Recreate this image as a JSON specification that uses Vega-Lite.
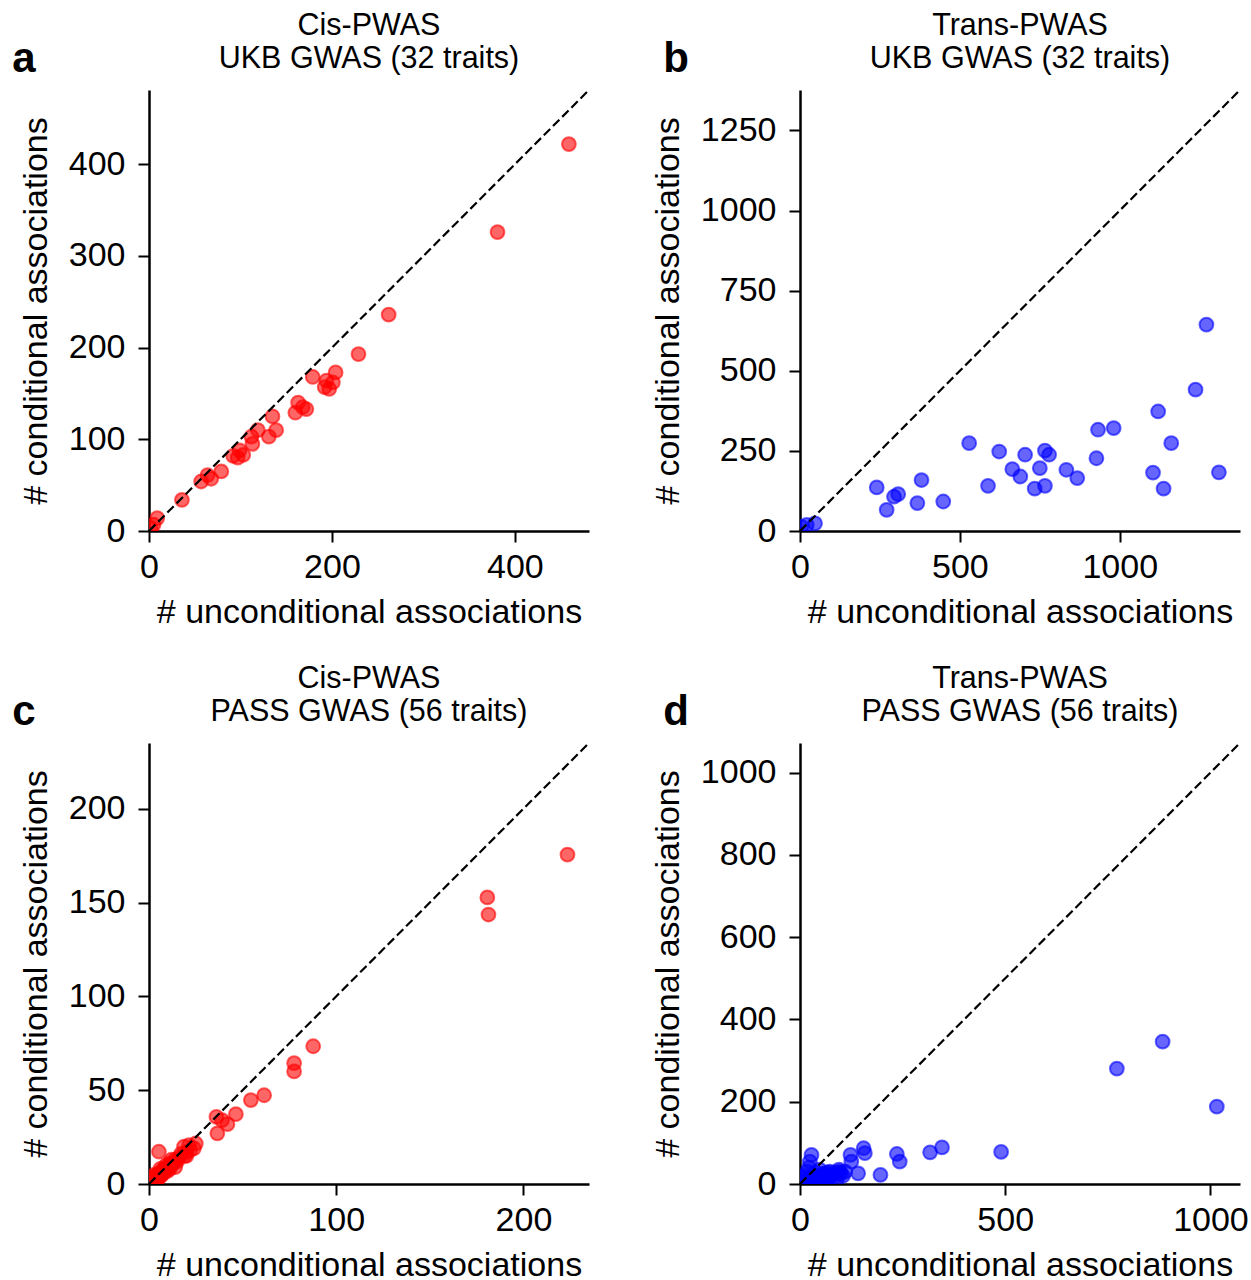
{
  "$schema": "https://vega.github.io/schema/vega-lite/v6.json",
  "background": "white",
  "padding": {"left": 12, "top": 11, "right": 5, "bottom": 5},
  "config": {
    "font": "Liberation Sans",
    "view": {"stroke": null},
    "axis": {"grid": false, "domainColor": "black", "domainWidth": 2.5, "tickColor": "black", "tickWidth": 2, "tickSize": 11, "labelFontSize": 34, "titleFontSize": 34, "labelColor": "black", "titleColor": "black", "titleFontWeight": "normal", "labelFlush": false, "labelFont": "Liberation Sans", "titleFont": "Liberation Sans", "format": "d"},
    "axisX": {"labelPadding": 8, "titlePadding": 11},
    "axisY": {"labelPadding": 13, "titlePadding": 15},
    "title": {"fontSize": 30.5, "fontWeight": "normal", "color": "black", "lineHeight": 33, "offset": 11, "font": "Liberation Sans"}
  },
  "columns": 2,
  "spacing": {"row": 35, "column": 57},
  "datasets": {
    "a": [
      {"u": 459, "c": 422}, {"u": 381, "c": 326}, {"u": 262, "c": 236}, {"u": 229, "c": 193}, {"u": 204, "c": 173}, {"u": 179, "c": 168}, {"u": 201, "c": 162}, {"u": 194, "c": 164}, {"u": 192, "c": 157}, {"u": 197, "c": 155}, {"u": 163, "c": 140}, {"u": 168, "c": 135}, {"u": 172, "c": 133}, {"u": 160, "c": 129}, {"u": 135, "c": 125}, {"u": 139, "c": 110}, {"u": 131, "c": 103}, {"u": 119, "c": 110}, {"u": 112, "c": 103}, {"u": 113, "c": 95}, {"u": 99, "c": 88}, {"u": 103, "c": 83}, {"u": 92, "c": 82}, {"u": 97, "c": 80}, {"u": 79, "c": 65}, {"u": 64, "c": 61}, {"u": 57, "c": 54}, {"u": 68, "c": 57}, {"u": 36, "c": 34}, {"u": 9, "c": 14}, {"u": 5, "c": 7}, {"u": 2, "c": 3}
    ],
    "b": [
      {"u": 1271, "c": 644}, {"u": 1237, "c": 441}, {"u": 1120, "c": 373}, {"u": 981, "c": 321}, {"u": 932, "c": 316}, {"u": 1161, "c": 274}, {"u": 529, "c": 274}, {"u": 623, "c": 248}, {"u": 766, "c": 251}, {"u": 779, "c": 238}, {"u": 704, "c": 238}, {"u": 927, "c": 227}, {"u": 664, "c": 193}, {"u": 750, "c": 196}, {"u": 833, "c": 191}, {"u": 689, "c": 170}, {"u": 867, "c": 165}, {"u": 1104, "c": 182}, {"u": 1310, "c": 183}, {"u": 1137, "c": 132}, {"u": 734, "c": 132}, {"u": 766, "c": 141}, {"u": 588, "c": 141}, {"u": 380, "c": 159}, {"u": 240, "c": 136}, {"u": 307, "c": 115}, {"u": 294, "c": 107}, {"u": 367, "c": 87}, {"u": 448, "c": 92}, {"u": 271, "c": 66}, {"u": 47, "c": 24}, {"u": 21, "c": 19}, {"u": 5, "c": 13}
    ],
    "c": [
      {"u": 223.5, "c": 175.5}, {"u": 180.7, "c": 152.7}, {"u": 181.3, "c": 143.6}, {"u": 87.7, "c": 73.4}, {"u": 77.5, "c": 64.4}, {"u": 77.5, "c": 60}, {"u": 61.5, "c": 47.3}, {"u": 54.4, "c": 44.7}, {"u": 46.4, "c": 37.2}, {"u": 36, "c": 35.8}, {"u": 41.9, "c": 31.9}, {"u": 39, "c": 34}, {"u": 36.5, "c": 27}, {"u": 25, "c": 21.6}, {"u": 21.4, "c": 20.7}, {"u": 18.7, "c": 19.9}, {"u": 5.3, "c": 17.2},
      {"u": 22, "c": 18}, {"u": 20, "c": 17}, {"u": 19, "c": 15}, {"u": 17, "c": 16}, {"u": 16, "c": 14}, {"u": 15, "c": 12}, {"u": 14, "c": 13}, {"u": 13, "c": 11}, {"u": 12, "c": 10}, {"u": 11, "c": 11}, {"u": 10, "c": 9}, {"u": 9, "c": 8}, {"u": 8, "c": 8}, {"u": 8, "c": 6}, {"u": 7, "c": 7}, {"u": 7, "c": 5}, {"u": 6, "c": 6}, {"u": 6, "c": 4}, {"u": 5, "c": 5}, {"u": 5, "c": 3}, {"u": 4, "c": 4}, {"u": 4, "c": 2}, {"u": 3, "c": 3}, {"u": 3, "c": 2}, {"u": 2, "c": 2}, {"u": 2, "c": 1}, {"u": 1, "c": 1}, {"u": 1, "c": 0}, {"u": 0, "c": 0}, {"u": 10, "c": 7}, {"u": 12, "c": 13}, {"u": 14, "c": 9}, {"u": 9, "c": 10}, {"u": 3, "c": 5}, {"u": 6, "c": 8}, {"u": 24, "c": 19}, {"u": 20, "c": 15}, {"u": 11, "c": 8}, {"u": 2, "c": 4}
    ],
    "d": [
      {"u": 883.5, "c": 346}, {"u": 772, "c": 280.5}, {"u": 1015.5, "c": 188}, {"u": 490, "c": 78}, {"u": 346, "c": 89}, {"u": 317, "c": 77}, {"u": 236, "c": 73}, {"u": 243, "c": 54.5}, {"u": 196, "c": 22}, {"u": 155, "c": 87}, {"u": 158, "c": 75}, {"u": 123, "c": 70.7}, {"u": 125, "c": 54.5}, {"u": 141.6, "c": 26}, {"u": 28, "c": 70.7}, {"u": 24, "c": 54.5}, {"u": 97, "c": 30}, {"u": 73, "c": 30}, {"u": 63, "c": 26}, {"u": 80, "c": 22}, {"u": 40, "c": 18},
      {"u": 10, "c": 5}, {"u": 15, "c": 8}, {"u": 20, "c": 12}, {"u": 25, "c": 6}, {"u": 30, "c": 15}, {"u": 35, "c": 10}, {"u": 45, "c": 20}, {"u": 50, "c": 12}, {"u": 55, "c": 25}, {"u": 60, "c": 18}, {"u": 65, "c": 8}, {"u": 70, "c": 15}, {"u": 75, "c": 22}, {"u": 85, "c": 18}, {"u": 90, "c": 12}, {"u": 100, "c": 25}, {"u": 105, "c": 20}, {"u": 5, "c": 2}, {"u": 2, "c": 1}, {"u": 0, "c": 0}, {"u": 12, "c": 20}, {"u": 18, "c": 30}, {"u": 22, "c": 40}, {"u": 8, "c": 15}, {"u": 38, "c": 28}, {"u": 42, "c": 6}, {"u": 48, "c": 35}, {"u": 58, "c": 10}, {"u": 68, "c": 28}, {"u": 88, "c": 28}, {"u": 95, "c": 35}, {"u": 110, "c": 30}, {"u": 30, "c": 2}, {"u": 16, "c": 3}, {"u": 52, "c": 3}
    ],
    "da": [{"u": 0, "c": 0}, {"u": 481, "c": 481}],
    "db": [{"u": 0, "c": 0}, {"u": 1376, "c": 1376}],
    "dc": [{"u": 0, "c": 0}, {"u": 235, "c": 235}],
    "dd": [{"u": 0, "c": 0}, {"u": 1072, "c": 1072}]
  },
  "concat": [
    {
      "title": {"text": "a", "anchor": "start", "fontSize": 42, "fontWeight": "bold", "baseline": "alphabetic", "offset": -103, "dx": -7},
      "vconcat": [{
        "title": {"text": ["Cis-PWAS", "UKB GWAS (32 traits)"], "anchor": "middle", "frame": "group"},
        "width": 440, "height": 441,
        "layer": [
          {"data": {"name": "a"}, "mark": {"type": "point", "filled": true, "fill": "#ff0000", "fillOpacity": 0.6, "stroke": "#ff0000", "strokeOpacity": 0.6, "strokeWidth": 2, "size": 190, "clip": true},
           "encoding": {
             "x": {"field": "u", "type": "quantitative", "scale": {"domain": [0, 481], "nice": false}, "axis": {"title": "# unconditional associations", "values": [0, 200, 400]}},
             "y": {"field": "c", "type": "quantitative", "scale": {"domain": [0, 481], "nice": false}, "axis": {"title": "# conditional associations", "values": [0, 100, 200, 300, 400]}}
           }},
          {"data": {"name": "da"}, "mark": {"type": "line", "color": "black", "strokeWidth": 2.2, "strokeDash": [9, 4]},
           "encoding": {"x": {"field": "u", "type": "quantitative"}, "y": {"field": "c", "type": "quantitative"}}}
        ]
      }]
    },
    {
      "title": {"text": "b", "anchor": "start", "fontSize": 42, "fontWeight": "bold", "baseline": "alphabetic", "offset": -103, "dx": 12},
      "vconcat": [{
        "title": {"text": ["Trans-PWAS", "UKB GWAS (32 traits)"], "anchor": "middle", "frame": "group"},
        "width": 440, "height": 441,
        "layer": [
          {"data": {"name": "b"}, "mark": {"type": "point", "filled": true, "fill": "#0000ff", "fillOpacity": 0.6, "stroke": "#0000ff", "strokeOpacity": 0.6, "strokeWidth": 2, "size": 190, "clip": true},
           "encoding": {
             "x": {"field": "u", "type": "quantitative", "scale": {"domain": [0, 1376], "nice": false}, "axis": {"title": "# unconditional associations", "values": [0, 500, 1000]}},
             "y": {"field": "c", "type": "quantitative", "scale": {"domain": [0, 1376], "nice": false}, "axis": {"title": "# conditional associations", "values": [0, 250, 500, 750, 1000, 1250]}}
           }},
          {"data": {"name": "db"}, "mark": {"type": "line", "color": "black", "strokeWidth": 2.2, "strokeDash": [9, 4]},
           "encoding": {"x": {"field": "u", "type": "quantitative"}, "y": {"field": "c", "type": "quantitative"}}}
        ]
      }]
    },
    {
      "title": {"text": "c", "anchor": "start", "fontSize": 42, "fontWeight": "bold", "baseline": "alphabetic", "offset": -103, "dx": -7},
      "vconcat": [{
        "title": {"text": ["Cis-PWAS", "PASS GWAS (56 traits)"], "anchor": "middle", "frame": "group"},
        "width": 440, "height": 441,
        "layer": [
          {"data": {"name": "c"}, "mark": {"type": "point", "filled": true, "fill": "#ff0000", "fillOpacity": 0.6, "stroke": "#ff0000", "strokeOpacity": 0.6, "strokeWidth": 2, "size": 190, "clip": true},
           "encoding": {
             "x": {"field": "u", "type": "quantitative", "scale": {"domain": [0, 235], "nice": false}, "axis": {"title": "# unconditional associations", "values": [0, 100, 200]}},
             "y": {"field": "c", "type": "quantitative", "scale": {"domain": [0, 235], "nice": false}, "axis": {"title": "# conditional associations", "values": [0, 50, 100, 150, 200]}}
           }},
          {"data": {"name": "dc"}, "mark": {"type": "line", "color": "black", "strokeWidth": 2.2, "strokeDash": [9, 4]},
           "encoding": {"x": {"field": "u", "type": "quantitative"}, "y": {"field": "c", "type": "quantitative"}}}
        ]
      }]
    },
    {
      "title": {"text": "d", "anchor": "start", "fontSize": 42, "fontWeight": "bold", "baseline": "alphabetic", "offset": -103, "dx": 12},
      "vconcat": [{
        "title": {"text": ["Trans-PWAS", "PASS GWAS (56 traits)"], "anchor": "middle", "frame": "group"},
        "width": 440, "height": 441,
        "layer": [
          {"data": {"name": "d"}, "mark": {"type": "point", "filled": true, "fill": "#0000ff", "fillOpacity": 0.6, "stroke": "#0000ff", "strokeOpacity": 0.6, "strokeWidth": 2, "size": 190, "clip": true},
           "encoding": {
             "x": {"field": "u", "type": "quantitative", "scale": {"domain": [0, 1072], "nice": false}, "axis": {"title": "# unconditional associations", "values": [0, 500, 1000]}},
             "y": {"field": "c", "type": "quantitative", "scale": {"domain": [0, 1072], "nice": false}, "axis": {"title": "# conditional associations", "values": [0, 200, 400, 600, 800, 1000]}}
           }},
          {"data": {"name": "dd"}, "mark": {"type": "line", "color": "black", "strokeWidth": 2.2, "strokeDash": [9, 4]},
           "encoding": {"x": {"field": "u", "type": "quantitative"}, "y": {"field": "c", "type": "quantitative"}}}
        ]
      }]
    }
  ]
}
